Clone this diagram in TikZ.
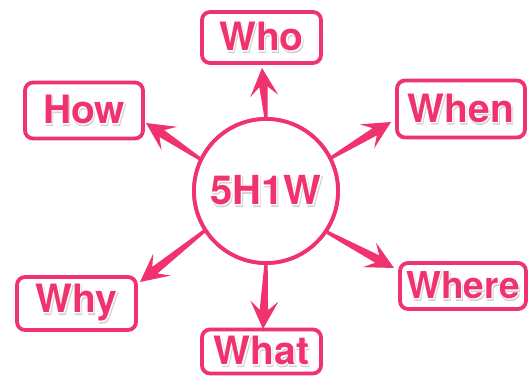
\documentclass[tikz,border=0pt]{standalone}
\usepackage{fontspec}
\usetikzlibrary{calc}
\newfontfamily\labelfont{texgyreheros-bold.otf}
\newfontfamily\halofont{texgyreheros-bold.otf}[FakeBold=4]
\definecolor{rose}{RGB}{240,50,110}
% pink bold word with a white rim and a soft grey drop shadow
\newcommand\glowtext[2]{{\fontsize{#1}{#1}\selectfont
  \rlap{\raisebox{-1.6pt}{\hspace*{0.8pt}\halofont\color{black!18}#2}}%
  \rlap{\halofont\color{white}#2}%
  \labelfont\color{rose}#2}}
\tikzset{
  hub/.style={circle, draw=rose, fill=white, line width=3.8pt,
    minimum size=144pt, inner sep=0pt},
  tag/.style={rectangle, draw=rose, fill=white, line width=3.8pt,
    rounded corners=8pt, inner sep=0pt},
  % tapered shaft with a swept-back head, filled as one outline
  spoke/.style={fill=rose, to path={
    -- ($(\tikztostart)!1.7pt!90:(\tikztotarget)$)
    -- ($(\tikztotarget)!19pt!(\tikztostart)!4.2pt!-90:(\tikztostart)$)
    -- ($(\tikztotarget)!28pt!(\tikztostart)!14pt!-90:(\tikztostart)$)
    -- (\tikztotarget)
    -- ($(\tikztotarget)!28pt!(\tikztostart)!14pt!90:(\tikztostart)$)
    -- ($(\tikztotarget)!19pt!(\tikztostart)!4.2pt!90:(\tikztostart)$)
    -- ($(\tikztostart)!1.7pt!-90:(\tikztotarget)$)
    -- cycle}}
}
\begin{document}
\begin{tikzpicture}[x=1pt,y=-1pt]
  \useasboundingbox[fill=white] (0,0) rectangle (532,377);

  % word boxes
  \node[tag, minimum width=119pt, minimum height=51pt] (who)   at (261.5,37.5) {\glowtext{39pt}{Who}};
  \node[tag, minimum width=118pt, minimum height=56pt] (how)   at (84,110.5)   {\glowtext{39pt}{How}};
  \node[tag, minimum width=128pt, minimum height=57pt] (when)  at (461,109)    {\glowtext{39pt}{When}};
  \node[tag, minimum width=119pt, minimum height=53pt] (why)   at (76.5,303.5) {\glowtext{39pt}{Why}};
  \node[tag, minimum width=126pt, minimum height=46pt] (where) at (463,286)    {\glowtext{37pt}{Where}};
  \node[tag, minimum width=119pt, minimum height=44pt] (what)  at (261.5,351.5){\glowtext{39pt}{What}};

  % centre hub
  \coordinate (ctr) at (266,191);
  \node[hub] (c) at (ctr) {};

  % arrow tips just outside the boxes
  \coordinate (whotip)   at (262,68);
  \coordinate (howtip)   at (146,123);
  \coordinate (whentip)  at (391,122);
  \coordinate (wheretip) at (394,268);
  \coordinate (whattip)  at (263,329);
  \coordinate (whytip)   at (140,282);

  \path[spoke] (c.90)    to (whotip);
  \path[spoke] (c.154)   to (howtip);
  \path[spoke] (c.27.5)  to (whentip);
  \path[spoke] (c.-34.5) to (wheretip);
  \path[spoke] (c.270)   to (whattip);
  \path[spoke] (c.213.5) to (whytip);

  % hub outline redrawn over the arrow roots
  \node[hub] (c2) at (ctr) {\glowtext{40pt}{5H1W}};
\end{tikzpicture}
\end{document}
